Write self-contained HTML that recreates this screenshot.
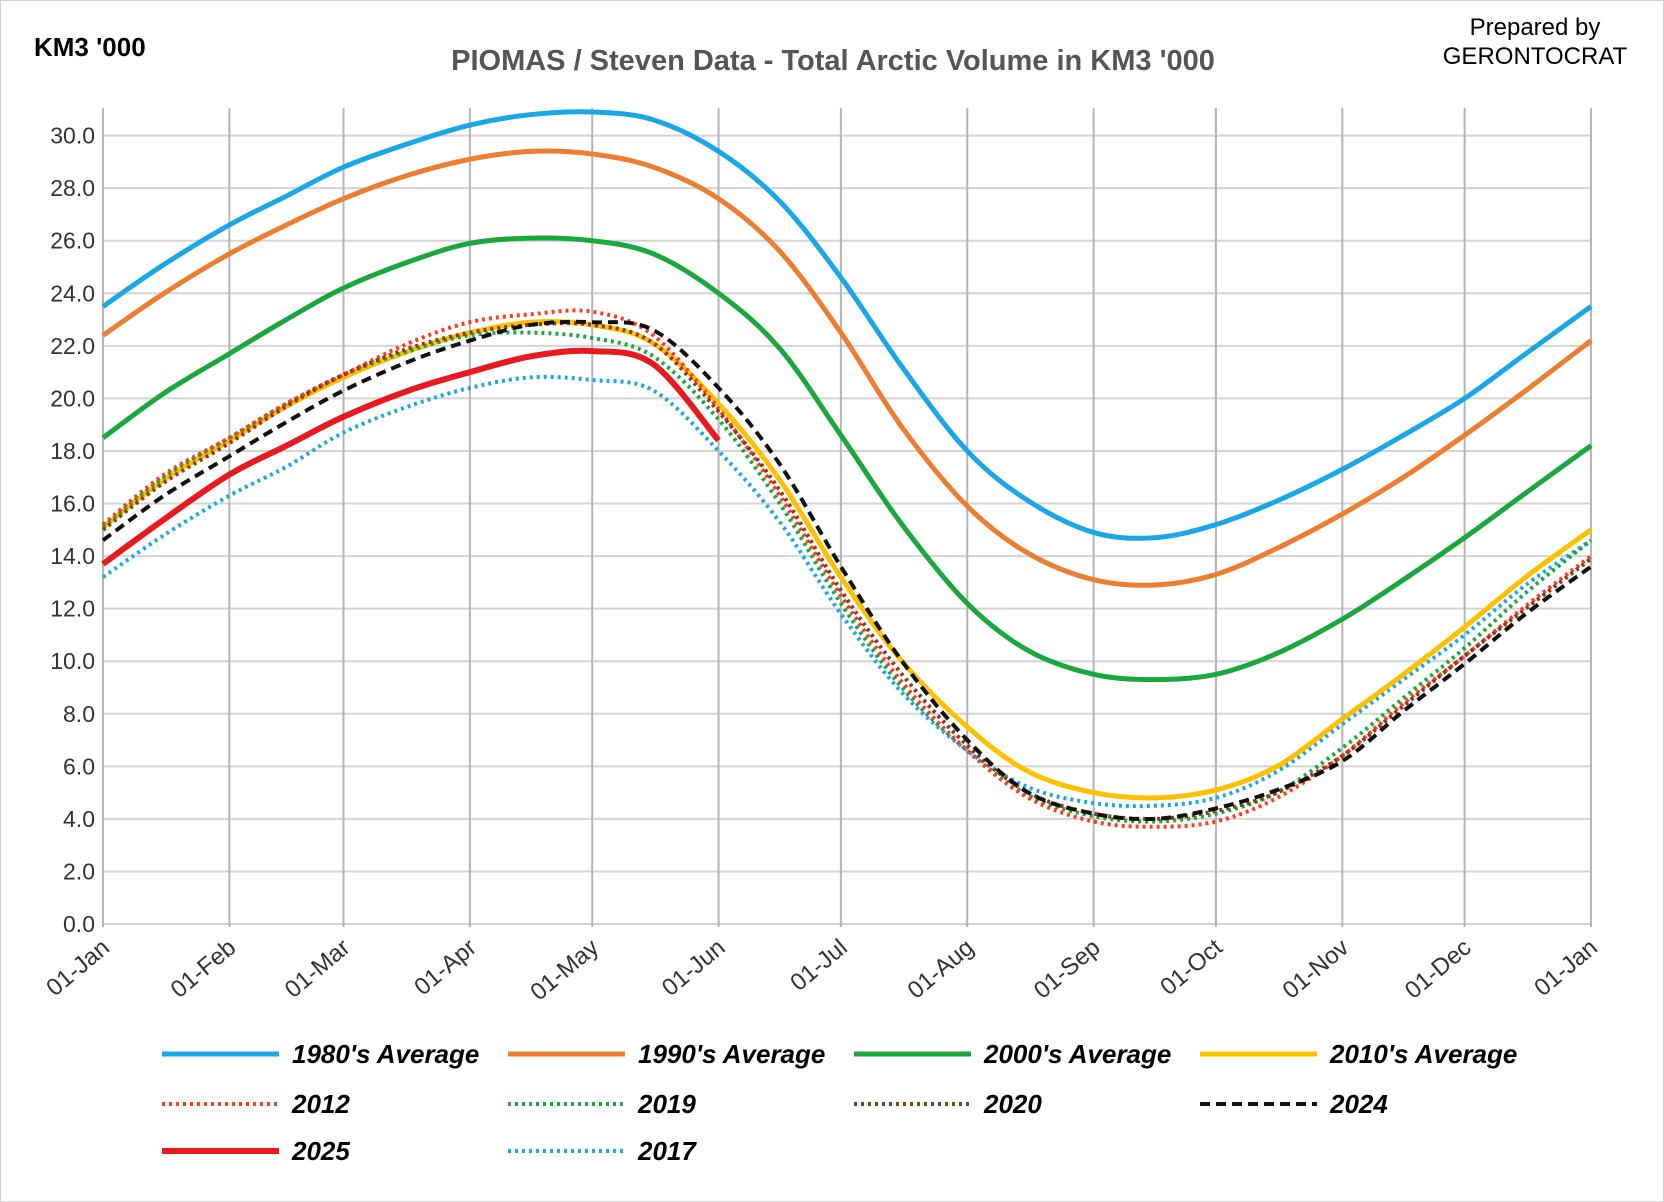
<!DOCTYPE html>
<html><head><meta charset="utf-8"><style>
body{margin:0;background:#fff}
svg{display:block;font-family:"Liberation Sans",sans-serif}
</style></head><body>
<svg id="chart" width="1664" height="1202" viewBox="0 0 1664 1202">
<rect x="0.5" y="0.5" width="1663" height="1201" fill="#fff" stroke="#d0d0d0"/>
<text x="34" y="56" font-size="26" font-weight="bold" fill="#000">KM3 '000</text>
<text x="833" y="70" font-size="29" font-weight="bold" fill="#555" text-anchor="middle">PIOMAS / Steven Data - Total Arctic Volume in KM3 '000</text>
<text x="1535" y="35" font-size="24" fill="#000" text-anchor="middle">Prepared by</text>
<text x="1535" y="64" font-size="24" fill="#000" text-anchor="middle">GERONTOCRAT</text>
<g id="grid"></g><g id="series"></g><g id="legend"></g>
</svg>
<script>
const days=[0,15,31,45,59,75,90,105,120,135,151,166,181,196,212,227,243,258,273,288,304,319,334,349,365];
const s1980=[23.5,25.1,26.6,27.7,28.8,29.7,30.4,30.8,30.9,30.6,29.4,27.5,24.6,21.2,18.0,16.1,14.9,14.7,15.2,16.1,17.3,18.6,20.0,21.7,23.5];
const s1990=[22.4,24.0,25.5,26.6,27.6,28.5,29.1,29.4,29.3,28.8,27.6,25.6,22.5,18.9,15.9,14.1,13.1,12.9,13.3,14.3,15.6,17.0,18.6,20.3,22.2];
const s2000=[18.5,20.2,21.7,23.0,24.2,25.2,25.9,26.1,26.0,25.5,24.0,21.9,18.6,15.2,12.2,10.4,9.5,9.3,9.5,10.3,11.6,13.1,14.7,16.4,18.2];
const s2010=[15.1,16.9,18.4,19.7,20.8,21.8,22.5,22.9,22.8,22.1,19.8,16.9,13.2,10.0,7.5,5.8,5.0,4.8,5.1,6.0,7.8,9.5,11.3,13.2,15.0];
const s2012=[15.2,17.1,18.5,19.8,20.9,22.1,22.9,23.2,23.3,22.4,19.6,16.3,12.5,9.2,6.6,4.8,3.9,3.7,3.9,4.8,6.4,8.4,10.2,12.1,14.0];
const s2019=[15.1,17.0,18.5,19.8,20.9,21.8,22.4,22.5,22.3,21.6,19.2,16.0,12.2,9.0,6.6,4.9,4.1,3.9,4.2,5.0,6.7,8.6,10.5,12.6,14.6];
const s2020=[15.0,16.8,18.3,19.7,20.9,21.9,22.5,22.8,22.8,22.1,19.5,16.5,12.7,9.5,6.8,5.0,4.2,4.0,4.3,5.0,6.4,8.3,10.2,12.0,13.9];
const s2024=[14.6,16.3,17.8,19.1,20.3,21.4,22.2,22.8,22.9,22.6,20.4,17.5,13.6,10.0,7.0,5.0,4.2,4.0,4.4,5.1,6.2,8.1,9.9,11.8,13.6];
const s2017=[13.2,14.8,16.3,17.4,18.7,19.7,20.4,20.8,20.7,20.3,18.0,15.3,11.8,8.8,6.6,5.2,4.6,4.5,4.8,5.8,7.6,9.3,11.0,12.9,14.6];
const s2025=[13.7,15.4,17.1,18.2,19.3,20.3,21.0,21.6,21.8,21.3,18.4];
const monthDays=[0,31,59,90,120,151,181,212,243,273,304,334,365];
const monthLabels=["01-Jan","01-Feb","01-Mar","01-Apr","01-May","01-Jun","01-Jul","01-Aug","01-Sep","01-Oct","01-Nov","01-Dec","01-Jan"];
const yTicks=[0,2,4,6,8,10,12,14,16,18,20,22,24,26,28,30];

const NS="http://www.w3.org/2000/svg";
const X0=103,X1=1591,Y0=924,YK=26.28;
const xs=d=>X0+(X1-X0)*d/365;
const ys=v=>Y0-v*YK;
function mk(tag,attrs,parent){const e=document.createElementNS(NS,tag);for(const k in attrs)e.setAttribute(k,attrs[k]);parent.appendChild(e);return e;}
const grid=document.getElementById('grid'),ser=document.getElementById('series'),leg=document.getElementById('legend');
yTicks.forEach(v=>{
 const l=mk('line',{x1:X0,x2:X1,y1:ys(v),y2:ys(v),stroke:'#d4d4d4','stroke-width':2},grid);
 
 
 const t=mk('text',{x:95,y:ys(v)+8,'font-size':23,fill:'#333','text-anchor':'end'},grid);
 t.textContent=v.toFixed(1);
 
 
});
monthDays.forEach((d,i)=>{
 const l=mk('line',{x1:xs(d),x2:xs(d),y1:108,y2:Y0+3,stroke:'#b5b5b5','stroke-width':2},grid);
 
 
 const tx=xs(d)+8,ty=Y0+26;
 const t=mk('text',{x:tx,y:ty,'font-size':24,fill:'#333','text-anchor':'end',transform:`rotate(-40 ${tx} ${ty})`},grid);
 t.textContent=monthLabels[i];
 
 
});
function pathD(vals){
 const p=vals.map((v,i)=>[xs(days[i]),ys(v)]);
 let d=`M${p[0][0]},${p[0][1]}`;
 for(let i=0;i<p.length-1;i++){
  const a=p[Math.max(i-1,0)],b=p[i],c=p[i+1],e=p[Math.min(i+2,p.length-1)];
  d+=` C${b[0]+(c[0]-a[0])/6},${b[1]+(c[1]-a[1])/6} ${c[0]-(e[0]-b[0])/6},${c[1]-(e[1]-b[1])/6} ${c[0]},${c[1]}`;
 }
 return d;
}
const defs=[
 {n:"1980's Average",v:s1980,c:'#1aa7e8',w:5,da:'',id:'series-1980s'},
 {n:"1990's Average",v:s1990,c:'#ed7d31',w:5,da:'',id:'series-1990s'},
 {n:"2000's Average",v:s2000,c:'#1aa83c',w:5,da:'',id:'series-2000s'},
 {n:"2010's Average",v:s2010,c:'#ffc000',w:5,da:'',id:'series-2010s'},
 {n:"2012",v:s2012,c:'#ff3b1f',w:4,da:'3 4',id:'series-2012'},
 {n:"2019",v:s2019,c:'#1aa83c',w:4,da:'3 4',id:'series-2019'},
 {n:"2020",v:s2020,c:'#8b3a1a',w:4,da:'3 4',id:'series-2020'},
 {n:"2024",v:s2024,c:'#111',w:4,da:'10 6',id:'series-2024'},
 {n:"2025",v:s2025,c:'#e8191f',w:6,da:'',id:'series-2025'},
 {n:"2017",v:s2017,c:'#1aa7e8',w:4,da:'3 4',id:'series-2017'}
];
const drawOrder=[0,1,2,9,3,5,4,6,7,8];
drawOrder.forEach(i=>{const s=defs[i];
 const p=mk('path',{d:pathD(s.v),fill:'none',stroke:s.c,'stroke-width':s.w,'stroke-dasharray':s.da,'stroke-linejoin':'round'},ser);
 
 
});
const cols=[162,508,854,1200],rows=[1054,1104,1151];
defs.forEach((s,i)=>{
 const cx=cols[i%4],cy=rows[Math.floor(i/4)];
 const g=mk('g',{},leg);
 
 
 mk('line',{x1:cx,x2:cx+117,y1:cy,y2:cy,stroke:s.c,'stroke-width':s.w,'stroke-dasharray':s.da},g);
 const t=mk('text',{x:cx+130,y:cy+9,'font-size':26,'font-weight':'bold','font-style':'italic',fill:'#000'},g);
 t.textContent=s.n;
});
</script>
</body></html>
